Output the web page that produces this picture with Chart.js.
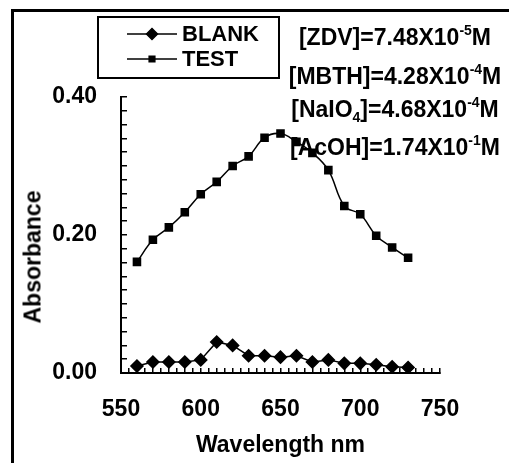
<!DOCTYPE html>
<html>
<head>
<meta charset="utf-8">
<script src="https://cdn.jsdelivr.net/npm/chart.js@4.4.0/dist/chart.umd.min.js"></script>
<style>
  html, body { margin: 0; padding: 0; background: #fff; }
  #wrap { position: relative; width: 509px; height: 463px; overflow: hidden; }
  #frame { position: absolute; left: 11px; top: 9px; width: 600px; height: 600px;
           border-top: 3px solid #000; border-left: 3px solid #000; }
  canvas { position: absolute; left: 0; top: 0; }
  .note { position: absolute; left: 395px; font: bold 23px "Liberation Sans", Arial, sans-serif;
          color: #000; white-space: nowrap; line-height: 1; transform: translate(-50%, -50%); }
  .note sup, .note sub { font-size: 14px; line-height: 0; position: relative; vertical-align: baseline; }
  .note sup { top: -0.75em; }
  .note sub { top: 0.35em; }
  #ytitle { position: absolute; left: 33px; top: 257px; font: bold 23px "Liberation Sans", Arial, sans-serif;
            white-space: nowrap; line-height: 1; transform: translate(-50%, -50%) rotate(-90deg); }
</style>
</head>
<body>
<div id="wrap">
  <div id="frame"></div>
  <canvas id="myChart" width="509" height="463"></canvas>
  <div id="ytitle">Absorbance</div>
  <div class="note" style="top:37px">[ZDV]=7.48X10<sup>-5</sup>M</div>
  <div class="note" style="top:76px">[MBTH]=4.28X10<sup>-4</sup>M</div>
  <div class="note" style="top:109px">[NaIO<sub>4</sub>]=4.68X10<sup>-4</sup>M</div>
  <div class="note" style="top:147px">[AcOH]=1.74X10<sup>-1</sup>M</div>
</div>
<script>
'use strict';

let wavelength = [560, 570, 580, 590, 600, 610, 620, 630, 640, 650, 660, 670, 680, 690, 700, 710, 720, 730];
let blankAbs = [0.010, 0.016, 0.016, 0.016, 0.019, 0.045, 0.040, 0.025, 0.025, 0.023, 0.025, 0.016, 0.019, 0.014, 0.014, 0.012, 0.009, 0.008];
let testAbs = [0.161, 0.193, 0.211, 0.233, 0.259, 0.277, 0.300, 0.314, 0.341, 0.347, 0.335, 0.319, 0.294, 0.242, 0.230, 0.199, 0.182, 0.167];
let xLabels = [550, 600, 650, 700, 750];
let yLabels = [0, 0.2, 0.4];

let boldFont = { family: '"Liberation Sans", Arial, sans-serif', size: 23, weight: 'bold' };

function toPoints(ys) {
  let pts = [];
  for (let i = 0; i < wavelength.length; i++) {
    pts.push({ x: wavelength[i], y: ys[i] });
  }
  return pts;
}

// legend with a box round it, drawn above the plot
let boxLegend = {
  id: 'boxLegend',
  afterDraw(chart) {
    let ctx = chart.ctx;
    let sizes = [5.5, 4];
    ctx.save();
    ctx.strokeStyle = '#000';
    ctx.fillStyle = '#000';
    ctx.lineWidth = 2;
    ctx.strokeRect(98, 17, 181, 61);
    ctx.font = 'bold 22px "Liberation Sans", Arial, sans-serif';
    ctx.textBaseline = 'middle';
    chart.data.datasets.forEach(function (ds, i) {
      let y = 34 + i * 25;
      ctx.lineWidth = 1.5;
      ctx.beginPath();
      ctx.moveTo(127, y);
      ctx.lineTo(177, y);
      ctx.stroke();
      Chart.helpers.drawPoint(ctx, { pointStyle: ds.pointStyle, radius: sizes[i], borderWidth: 1 }, 152, y);
      ctx.fillText(ds.label, 182, y + 1);
    });
    ctx.restore();
  }
};

let ctx = document.getElementById('myChart').getContext('2d');
let myChart = new Chart(ctx, {
  type: 'line',
  data: {
    datasets: [{
      label: 'BLANK',
      data: toPoints(blankAbs),
      borderColor: '#000',
      backgroundColor: '#000',
      borderWidth: 1.5,
      pointStyle: 'rectRot',
      pointRadius: 6,
      tension: 0
    }, {
      label: 'TEST',
      data: toPoints(testAbs),
      borderColor: '#000',
      backgroundColor: '#000',
      borderWidth: 1.5,
      pointStyle: 'rect',
      pointRadius: 5,
      tension: 0.4
    }]
  },
  options: {
    responsive: false,
    animation: false,
    devicePixelRatio: 1,
    layout: { padding: { left: 20, top: 97, right: 69, bottom: 4 } },
    plugins: { legend: { display: false }, tooltip: { enabled: false } },
    scales: {
      x: {
        type: 'linear',
        min: 550,
        max: 750,
        afterFit: function (s) { s.height = 86; },
        border: { color: '#000', width: 2 },
        grid: { drawOnChartArea: false, color: '#000', lineWidth: 1.5, tickLength: -5 },
        ticks: {
          stepSize: 5,
          autoSkip: false,
          maxRotation: 0,
          color: '#000',
          font: boldFont,
          padding: 28,
          callback: function (v) { return xLabels.includes(v) ? String(v) : ''; }
        },
        title: { display: true, text: 'Wavelength nm', color: '#000', font: boldFont, padding: 0 }
      },
      y: {
        min: 0,
        max: 0.4,
        afterFit: function (s) { s.width = 101; },
        border: { color: '#000', width: 2 },
        grid: { drawOnChartArea: false, color: '#000', lineWidth: 1.5, tickLength: -6 },
        ticks: {
          stepSize: 0.02,
          autoSkip: false,
          color: '#000',
          font: boldFont,
          padding: 30,
          callback: function (v) {
            return yLabels.some(function (l) { return Math.abs(l - v) < 1e-9; }) ? v.toFixed(2) : '';
          }
        }
      }
    }
  },
  plugins: [boxLegend]
});
</script>
</body>
</html>
